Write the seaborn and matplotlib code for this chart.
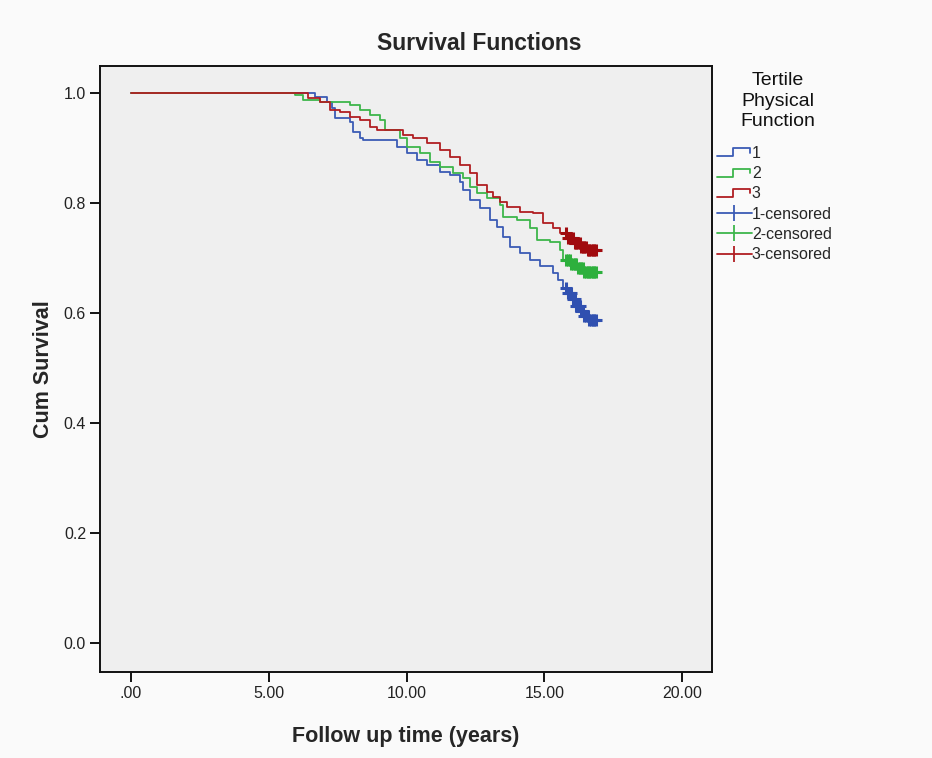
import numpy as np
import pandas as pd
import matplotlib
matplotlib.use("Agg")
import matplotlib.pyplot as plt
from matplotlib.lines import Line2D
from matplotlib.legend_handler import HandlerBase
import seaborn as sns

# ---------------- data ----------------
groups = ["1", "2", "3"]

t1 = [0.0, 6.68, 7.11, 7.30, 7.40, 7.95, 8.06, 8.31, 8.42, 9.66, 10.02, 10.38, 10.74,
      11.22, 11.58, 11.94, 12.05, 12.30, 12.67, 13.03, 13.28, 13.50, 13.76, 14.12,
      14.48, 14.85, 15.32, 15.50, 15.68, 15.85, 16.00, 16.15, 16.30, 16.45, 16.60, 16.92]
s1 = [1.000, 0.993, 0.984, 0.973, 0.955, 0.947, 0.929, 0.918, 0.915, 0.902, 0.891, 0.878,
      0.869, 0.856, 0.851, 0.838, 0.824, 0.805, 0.791, 0.769, 0.756, 0.738, 0.720, 0.709,
      0.696, 0.685, 0.673, 0.660, 0.645, 0.636, 0.625, 0.613, 0.604, 0.595, 0.588, 0.588]

t2 = [0.0, 5.95, 6.24, 6.86, 7.95, 8.31, 8.68, 9.04, 9.22, 9.76, 10.02, 10.49, 10.85,
      11.22, 11.69, 12.05, 12.30, 12.56, 12.92, 13.39, 13.50, 14.01, 14.48, 14.74,
      15.21, 15.57, 15.68, 15.95, 16.20, 16.45, 16.92]
s2 = [1.000, 0.996, 0.987, 0.984, 0.978, 0.969, 0.960, 0.951, 0.933, 0.918, 0.902, 0.891,
      0.875, 0.865, 0.855, 0.845, 0.829, 0.818, 0.809, 0.796, 0.775, 0.769, 0.755, 0.733,
      0.729, 0.715, 0.696, 0.689, 0.682, 0.675, 0.675]

t3 = [0.0, 6.42, 6.86, 7.22, 7.59, 7.95, 8.31, 8.68, 8.93, 9.87, 10.24, 10.74, 11.22,
      11.58, 11.94, 12.30, 12.56, 12.92, 13.14, 13.39, 13.65, 14.12, 14.59, 14.95,
      15.32, 15.57, 15.83, 16.05, 16.30, 16.55, 16.92]
s3 = [1.000, 0.991, 0.984, 0.969, 0.965, 0.956, 0.951, 0.938, 0.933, 0.924, 0.918, 0.909,
      0.896, 0.884, 0.869, 0.855, 0.833, 0.820, 0.811, 0.802, 0.793, 0.784, 0.782, 0.764,
      0.755, 0.745, 0.736, 0.728, 0.720, 0.714, 0.714]

cens1 = [15.80, 15.86, 15.92, 15.98, 16.04, 16.10, 16.16, 16.22, 16.28, 16.34, 16.40,
         16.46, 16.52, 16.58, 16.64, 16.70, 16.76, 16.82, 16.88]
cens2 = [15.80, 15.86, 15.92, 15.98, 16.04, 16.10, 16.16, 16.22, 16.28, 16.34, 16.40,
         16.46, 16.52, 16.58, 16.64, 16.70, 16.76, 16.82, 16.88]
cens3 = [15.80, 15.86, 15.92, 15.98, 16.04, 16.10, 16.16, 16.22, 16.28, 16.34, 16.40,
         16.46, 16.52, 16.58, 16.64, 16.70, 16.76, 16.82, 16.88]

x_ticks = [0, 5, 10, 15, 20]
x_tick_labels = [".00", "5.00", "10.00", "15.00", "20.00"]
y_ticks = [0.0, 0.2, 0.4, 0.6, 0.8, 1.0]
y_tick_labels = ["0.0", "0.2", "0.4", "0.6", "0.8", "1.0"]

colors = {"1": "#3B5BB5", "2": "#3DB64B", "3": "#B01E22"}
cens_colors = {"1": "#3050B0", "2": "#2DB03D", "3": "#A00A0E"}

# ---------------- frames ----------------
curves = pd.concat([
    pd.DataFrame({"time": t, "surv": s, "group": g})
    for g, t, s in zip(groups, [t1, t2, t3], [s1, s2, s3])
], ignore_index=True)


def step_value(times, survs, q):
    idx = np.searchsorted(np.asarray(times), np.asarray(q), side="right") - 1
    return np.asarray(survs)[idx]


cens = pd.concat([
    pd.DataFrame({"time": c, "surv": step_value(t, s, c), "group": g})
    for g, t, s, c in zip(groups, [t1, t2, t3], [s1, s2, s3], [cens1, cens2, cens3])
], ignore_index=True)

# ---------------- plotting ----------------
sns.set_style("white")
plt.rcParams["font.family"] = ["Liberation Sans", "DejaVu Sans"]

fig = plt.figure(figsize=(9.32, 7.58), dpi=100, facecolor="#FAFAFA")
ax = fig.add_axes([0.1073, 0.1135, 0.6567, 0.7994])
ax.set_facecolor("#EFEFEF")

sns.lineplot(data=curves, x="time", y="surv", hue="group", palette=colors,
             estimator=None, sort=False, drawstyle="steps-post", linewidth=1.3,
             legend=False, ax=ax)
for g in groups:
    sub = cens[cens["group"] == g]
    sns.scatterplot(data=sub, x="time", y="surv", marker="+", s=70,
                    color=cens_colors[g], linewidth=2.2, legend=False, ax=ax, zorder=3)

ax.set_xlim(-1.125, 21.09)
ax.set_ylim(-0.053, 1.049)
ax.set_xticks(x_ticks)
ax.set_xticklabels(x_tick_labels)
ax.set_yticks(y_ticks)
ax.set_yticklabels(y_tick_labels)
ax.tick_params(axis="both", direction="out", length=7, width=1.3, color="black",
               labelsize=11.5, labelcolor="#222222", left=True, bottom=True, pad=3)

for sp in ax.spines.values():
    sp.set_color("#111111")
    sp.set_linewidth(1.4)
    sp.set_visible(True)

ax.set_xlabel("Follow up time (years)", fontsize=15.5, fontweight="bold", labelpad=18)
ax.set_ylabel("Cum Survival", fontsize=15.5, fontweight="bold", labelpad=7)
fig.text(0.5145, 0.943, "Survival Functions", ha="center", va="center",
         fontsize=16.5, fontweight="bold")

# legend title drawn as separate text (centred lines)
fig.text(0.8348, 1 - 101 / 758, "Tertile\nPhysical\nFunction", ha="center",
         va="center", multialignment="center", fontsize=14, linespacing=1.27,
         color="#111111")


class StepHandler(HandlerBase):
    def create_artists(self, legend, orig_handle, xdescent, ydescent, width,
                       height, fontsize, trans):
        x0 = -xdescent
        y0 = -ydescent
        xs = [x0, x0 + 0.45 * width, x0 + 0.45 * width, x0 + 0.95 * width, x0 + 0.95 * width]
        ys = [y0 + 0.15 * height, y0 + 0.15 * height, y0 + 0.85 * height,
              y0 + 0.85 * height, y0 + 0.45 * height]
        line = Line2D(xs, ys, color=orig_handle.get_color(), linewidth=1.3,
                      transform=trans)
        return [line]


step_handles = [Line2D([], [], color=colors[g]) for g in groups]
cens_handles = [Line2D([], [], color=colors[g], marker="|", markersize=11,
                       markeredgewidth=1.3, linewidth=1.3) for g in groups]
handles = step_handles + cens_handles
labels = groups + [f"{g}-censored" for g in groups]
handler_map = {h: StepHandler() for h in step_handles}

leg = fig.legend(handles, labels, handler_map=handler_map, loc="upper left",
                 bbox_to_anchor=(0.769, 0.8075), frameon=False, fontsize=11.5,
                 handlelength=2.2, handletextpad=0.0, labelspacing=0.33,
                 borderaxespad=0.0, borderpad=0.0)

fig.savefig("out.png", dpi=100, facecolor=fig.get_facecolor())
